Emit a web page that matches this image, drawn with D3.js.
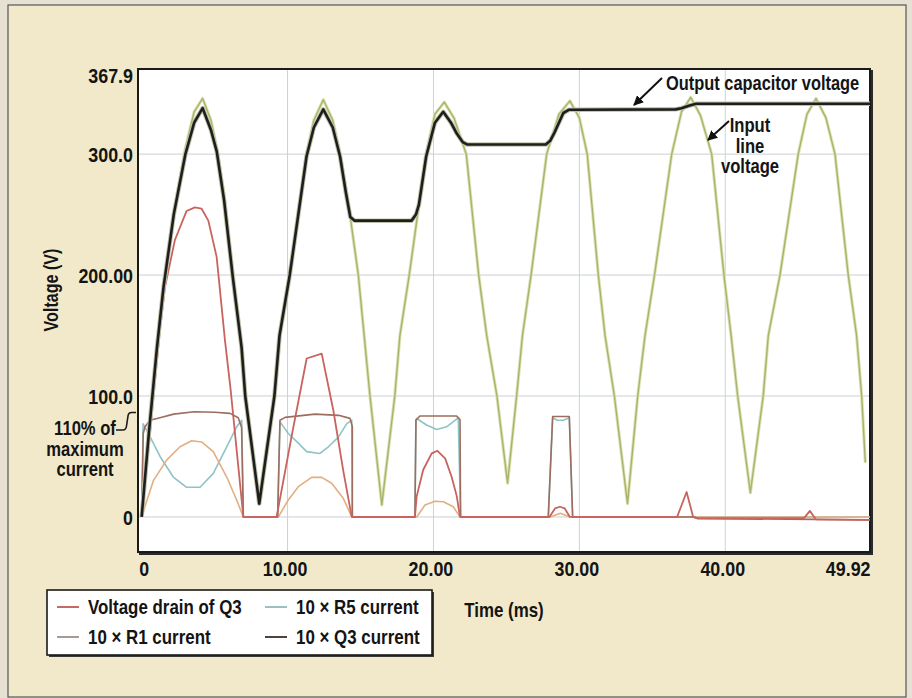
<!DOCTYPE html>
<html>
<head>
<meta charset="utf-8">
<script src="https://cdn.jsdelivr.net/npm/d3@7"></script>
<style>
  body { margin: 0; background: #e6e1d2; }
  svg { display: block; }
  text { font-family: "Liberation Sans", Arial, Helvetica, sans-serif; font-weight: bold; fill: #141414; }
</style>
</head>
<body>
<svg id="chart"></svg>
<script>
(function() {

  var width = 912, height = 698;

  // time (ms), volts
  var inputLine = [
    [0,0],[0.5,70],[1.05,140],[1.5,190],[2.2,250],[3.0,305],[3.6,335],[4.18,346],
    [4.75,328],[5.15,305],[5.65,265],[6.25,200],[6.85,140],[7.1,100],[8.06,11],
    [9.1,100],[9.45,150],[10.15,200],[11.3,300],[11.8,328],[12.45,345],
    [13.1,328],[13.6,300],[14.3,248],[14.85,200],[15.65,100],[16.46,10],
    [17.35,100],[17.7,150],[18.34,200],[19.49,300],[20.1,333],[20.74,343],
    [21.4,330],[22.25,300],[23.1,200],[23.65,150],[24.35,100],[25.08,28],
    [25.7,100],[26.1,150],[26.69,200],[27.76,300],[28.6,333],[29.35,344],
    [30.0,330],[30.54,300],[31.3,200],[31.76,150],[32.4,100],[33.3,11],
    [34.0,100],[34.5,150],[35.15,200],[36.33,300],[37.0,335],[37.63,347],
    [38.3,332],[39.07,300],[39.91,200],[40.4,150],[40.85,100],[41.72,20],
    [42.6,100],[42.95,150],[43.75,200],[45.0,300],[45.6,333],[46.22,346],
    [46.9,330],[47.52,300],[48.43,200],[49.0,150],[49.35,100],[49.6,45]
  ];

  var outputCap = [
    [0,0],[0.5,70],[1.05,140],[1.5,190],[2.2,250],[3.0,300],[3.6,326],[4.18,338],
    [4.75,320],[5.15,302],[5.65,262],[6.25,198],[6.85,140],[7.1,100],[8.06,11],
    [9.1,100],[9.45,150],[10.15,200],[11.3,298],[11.8,322],[12.45,337],
    [13.1,322],[13.6,298],[14.0,268],[14.3,248],[14.6,245],
    [18.5,245],[18.8,250],[19.0,258],[19.5,298],[20.1,326],[20.67,335],
    [21.2,326],[21.6,317],[22.0,310],[22.3,308],
    [27.7,308],[28.0,311],[28.3,318],[28.9,334],[29.3,336.7],
    [36.6,337],[37.0,338],[37.5,340],[38.0,341.6],[49.92,341.6]
  ];

  var drainQ3 = [
    [0,0],[0.3,35],[0.92,113],[1.25,154],[1.6,190],[2.28,229],[3.08,253],[3.65,256],
    [4.1,255],[4.57,245],[5.14,215],[5.71,146],[6.1,105],[6.97,0],
    [9.25,0],[10.3,68],[11.31,131],[12.34,135],[13.14,88],[13.82,38],[14.4,0],
    [18.73,0],[18.85,17],[19.3,39],[19.88,52.5],[20.27,54.7],[20.8,48.4],[21.25,33],[21.6,17],[21.82,0],
    [27.95,0],[28.33,7],[28.67,8.4],[29.0,7],[29.35,0],
    [36.7,0],[37.35,20.6],[37.8,0],[38.0,-1],
    [45.4,-1],[45.8,5],[46.2,-2],[49.92,-2.5]
  ];

  var currentR1 = [
    [0,0],[0.8,30],[1.71,47],[2.63,58],[3.43,63],[4.11,62],[4.91,54],[5.83,33],[6.51,14],[6.97,0],
    [9.37,0],[10.05,14],[10.74,25],[11.65,32.7],[12.34,32.7],[13.02,27.8],[13.82,15.4],[14.4,0],
    [18.85,0],[19.42,9.8],[20.1,13],[20.68,12.6],[21.36,8.4],[21.82,0],
    [28.0,0],[28.7,3],[29.35,0],[49.92,0]
  ];

  var currentR5 = [
    [0,0],[0.1,77],[0.46,69],[1.26,50],[2.17,33],[3.08,24.5],[4.0,24.5],[4.91,36],
    [5.83,58],[6.51,74.5],[6.86,80],[6.97,0],
    [9.32,0],[9.48,78.6],[10.05,69],[10.74,61],[11.31,54],[12.22,52.5],[12.8,58],
    [13.48,66],[14.05,77],[14.4,80],[14.44,0],
    [18.73,0],[18.8,80],[18.85,81.4],[19.53,76],[20.22,72.3],[20.9,74.5],[21.7,82],[21.86,0],
    [27.87,0],[28.17,82],[28.5,80],[28.9,80],[29.31,82],[29.54,0],[49.92,0]
  ];

  var currentQ3 = [
    [0,0],[0.11,69],[0.23,74.5],[0.57,80],[1.25,82],[2.2,85],[3.6,87],[5.0,86.5],
    [6.06,85.6],[6.62,82],[6.85,74],[6.97,0],
    [9.32,0],[9.48,80],[9.83,82.3],[11.88,85],[13.5,84],[14.28,81.5],[14.44,74.5],[14.44,0],
    [18.73,0],[18.8,80],[19.07,83.4],[21.59,83.4],[21.82,80.6],[21.86,0],
    [27.87,0],[28.17,83],[29.31,83],[29.54,0],
    [37.9,0],[38.1,-1.5],[46.2,-2],[49.92,-2.5]
  ];

  var xTicks = [0, 10, 20, 30, 40, 49.92];
  var xTickLabels = ["0", "10.00", "20.00", "30.00", "40.00", "49.92"];
  var yTicks = [0, 100, 200, 300, 367.9];
  var yTickLabels = ["0", "100.0", "200.00", "300.0", "367.9"];
  var legendLabels = ["Voltage drain of Q3", "10 \u00d7 R5 current", "10 \u00d7 R1 current", "10 \u00d7 Q3 current"];
  var legendColors = ["#c05a55", "#8fb9bb", "#9c8f86", "#3a2e2a"];

  // the original type is a condensed bold face, squeeze the bold sans to match
  function condense(sel, k) {
    sel.each(function() {
      var w = this.getComputedTextLength();
      this.setAttribute("textLength", (w * k).toFixed(1));
      this.setAttribute("lengthAdjust", "spacingAndGlyphs");
    });
  }
  var wordSqueeze = 0.805, numberSqueeze = 0.85;

  var svg = d3.select("#chart")
    .attr("width", width)
    .attr("height", height);

  // page
  svg.append("rect")
    .attr("x", 8).attr("y", 5).attr("width", 898).attr("height", 692)
    .attr("fill", "#f2e9cb").attr("stroke", "#555").attr("stroke-width", 1.2);

  var plot = { left: 138, top: 69, right: 870, bottom: 552 };

  const xPositionScale = d3.scaleLinear().domain([-0.25, 49.92]).range([plot.left, plot.right]);
  const yPositionScale = d3.scaleLinear().domain([-29, 367.9]).range([plot.bottom, 72]);

  // frame with a little shadow
  svg.append("rect")
    .attr("x", plot.left + 1).attr("y", plot.top + 1)
    .attr("width", plot.right - plot.left + 2).attr("height", plot.bottom - plot.top + 2)
    .attr("fill", "#2a2a2a");
  svg.append("rect")
    .attr("x", plot.left).attr("y", plot.top)
    .attr("width", plot.right - plot.left).attr("height", plot.bottom - plot.top)
    .attr("fill", "#ffffff").attr("stroke", "#1a1a1a").attr("stroke-width", 2);

  // grid
  var grid = svg.append("g").attr("class", "grid");
  grid.selectAll(".vgrid")
    .data(xTicks.slice(1, 5))
    .enter().append("line")
    .attr("x1", d => xPositionScale(d)).attr("x2", d => xPositionScale(d))
    .attr("y1", plot.top + 1).attr("y2", plot.bottom - 1)
    .attr("stroke", "#c3d6da").attr("stroke-width", 1);
  grid.selectAll(".hgrid")
    .data(yTicks.slice(0, 4))
    .enter().append("line")
    .attr("x1", plot.left + 1).attr("x2", plot.right - 1)
    .attr("y1", d => yPositionScale(d)).attr("y2", d => yPositionScale(d))
    .attr("stroke", "#c9d0d2").attr("stroke-width", 1);

  var line = d3.line()
    .x(d => xPositionScale(d[0]))
    .y(d => yPositionScale(d[1]));

  function drawSeries(data, color, w) {
    svg.append("path")
      .datum(data)
      .attr("d", line)
      .attr("fill", "none")
      .attr("stroke", color)
      .attr("stroke-width", w)
      .attr("stroke-linejoin", "round");
  }

  drawSeries(currentR5, "#8fc3c4", 1.6);
  drawSeries(currentR1, "#e3ae80", 1.6);
  drawSeries(currentQ3, "#9d6d5f", 1.6);
  drawSeries(drainQ3, "#c8635e", 1.8);
  drawSeries(inputLine, "#dfe2b4", 3.2);
  drawSeries(inputLine, "#a8b36c", 1.4);
  drawSeries(outputCap, "#bfc2a8", 4.5);
  drawSeries(outputCap, "#1e1e1e", 2.6);

  // axes
  var xAxis = d3.axisBottom(xPositionScale)
    .tickValues(xTicks)
    .tickFormat((d, i) => xTickLabels[i])
    .tickSize(0)
    .tickPadding(9);
  var gx = svg.append("g")
    .attr("transform", "translate(0," + plot.bottom + ")")
    .call(xAxis);
  gx.select(".domain").remove();
  gx.selectAll("text")
    .attr("font-size", 21)
    .attr("font-family", null)
    .attr("text-anchor", (d, i) => i === xTicks.length - 1 ? "end" : "middle")
    .attr("dx", (d, i) => i === 0 ? 2 : (i === xTicks.length - 1 ? 0 : -3))
    .call(condense, numberSqueeze);

  var yAxis = d3.axisLeft(yPositionScale)
    .tickValues(yTicks)
    .tickFormat((d, i) => yTickLabels[i])
    .tickSize(0)
    .tickPadding(5);
  var gy = svg.append("g")
    .attr("transform", "translate(" + plot.left + ",0)")
    .call(yAxis);
  gy.select(".domain").remove();
  gy.selectAll("text")
    .attr("font-size", 21)
    .attr("font-family", null)
    .attr("dy", (d, i) => i === yTicks.length - 1 ? "0.5em" : "0.35em")
    .call(condense, numberSqueeze);

  // axis titles
  svg.append("text")
    .attr("transform", "translate(58,290) rotate(-90)")
    .attr("text-anchor", "middle")
    .attr("font-size", 20)
    .text("Voltage (V)")
    .call(condense, wordSqueeze);
  svg.append("text")
    .attr("x", 504).attr("y", 617)
    .attr("text-anchor", "middle")
    .attr("font-size", 21)
    .text("Time (ms)")
    .call(condense, wordSqueeze);

  // 110% of maximum current note
  var note = svg.append("g").attr("text-anchor", "middle").attr("font-size", 20);
  ["110% of", "maximum", "current"].forEach(function(t, i) {
    note.append("text").attr("x", 85).attr("y", 435 + i * 20.5).text(t).call(condense, 0.83);
  });
  svg.append("path")
    .attr("d", "M116,430 H123 Q126,430 126.5,426 L128,416 Q128.5,412.5 131.5,412.5 H136")
    .attr("fill", "none").attr("stroke", "#1a1a1a").attr("stroke-width", 1.6);

  // arrow callouts
  svg.append("defs").append("marker")
    .attr("id", "head")
    .attr("viewBox", "0 0 10 10")
    .attr("refX", 9).attr("refY", 5)
    .attr("markerWidth", 5).attr("markerHeight", 5)
    .attr("orient", "auto")
    .append("path").attr("d", "M0,0 L10,5 L0,10 z").attr("fill", "#111");

  svg.append("line")
    .attr("x1", 662).attr("y1", 78).attr("x2", 634).attr("y2", 105)
    .attr("stroke", "#111").attr("stroke-width", 2).attr("marker-end", "url(#head)");
  svg.append("text")
    .attr("x", 666).attr("y", 90)
    .attr("font-size", 20)
    .text("Output capacitor voltage")
    .call(condense, 0.82);

  svg.append("line")
    .attr("x1", 729).attr("y1", 121).attr("x2", 708).attr("y2", 140)
    .attr("stroke", "#111").attr("stroke-width", 2).attr("marker-end", "url(#head)");
  var lineNote = svg.append("g").attr("text-anchor", "middle").attr("font-size", 20);
  ["Input", "line", "voltage"].forEach(function(t, i) {
    lineNote.append("text").attr("x", 750).attr("y", 132 + i * 20.5).text(t).call(condense, 0.83);
  });

  // legend
  var legend = svg.append("g").attr("transform", "translate(47,590)");
  legend.append("rect")
    .attr("x", 2).attr("y", 2).attr("width", 385).attr("height", 65)
    .attr("fill", "#3a3a3a");
  legend.append("rect")
    .attr("width", 385).attr("height", 65)
    .attr("fill", "#ffffff").attr("stroke", "#1a1a1a").attr("stroke-width", 1.6);
  var items = legend.selectAll(".item")
    .data(legendLabels)
    .enter().append("g")
    .attr("transform", (d, i) => "translate(" + (i % 2 === 0 ? 10 : 218) + "," + (i < 2 ? 17 : 47) + ")");
  items.append("line")
    .attr("x1", 0).attr("x2", 22)
    .attr("stroke", (d, i) => legendColors[i])
    .attr("stroke-width", 1.8);
  items.append("text")
    .attr("x", 31).attr("dy", "0.35em")
    .attr("font-size", 21)
    .text(d => d)
    .call(condense, wordSqueeze);

})()
</script>
</body>
</html>
